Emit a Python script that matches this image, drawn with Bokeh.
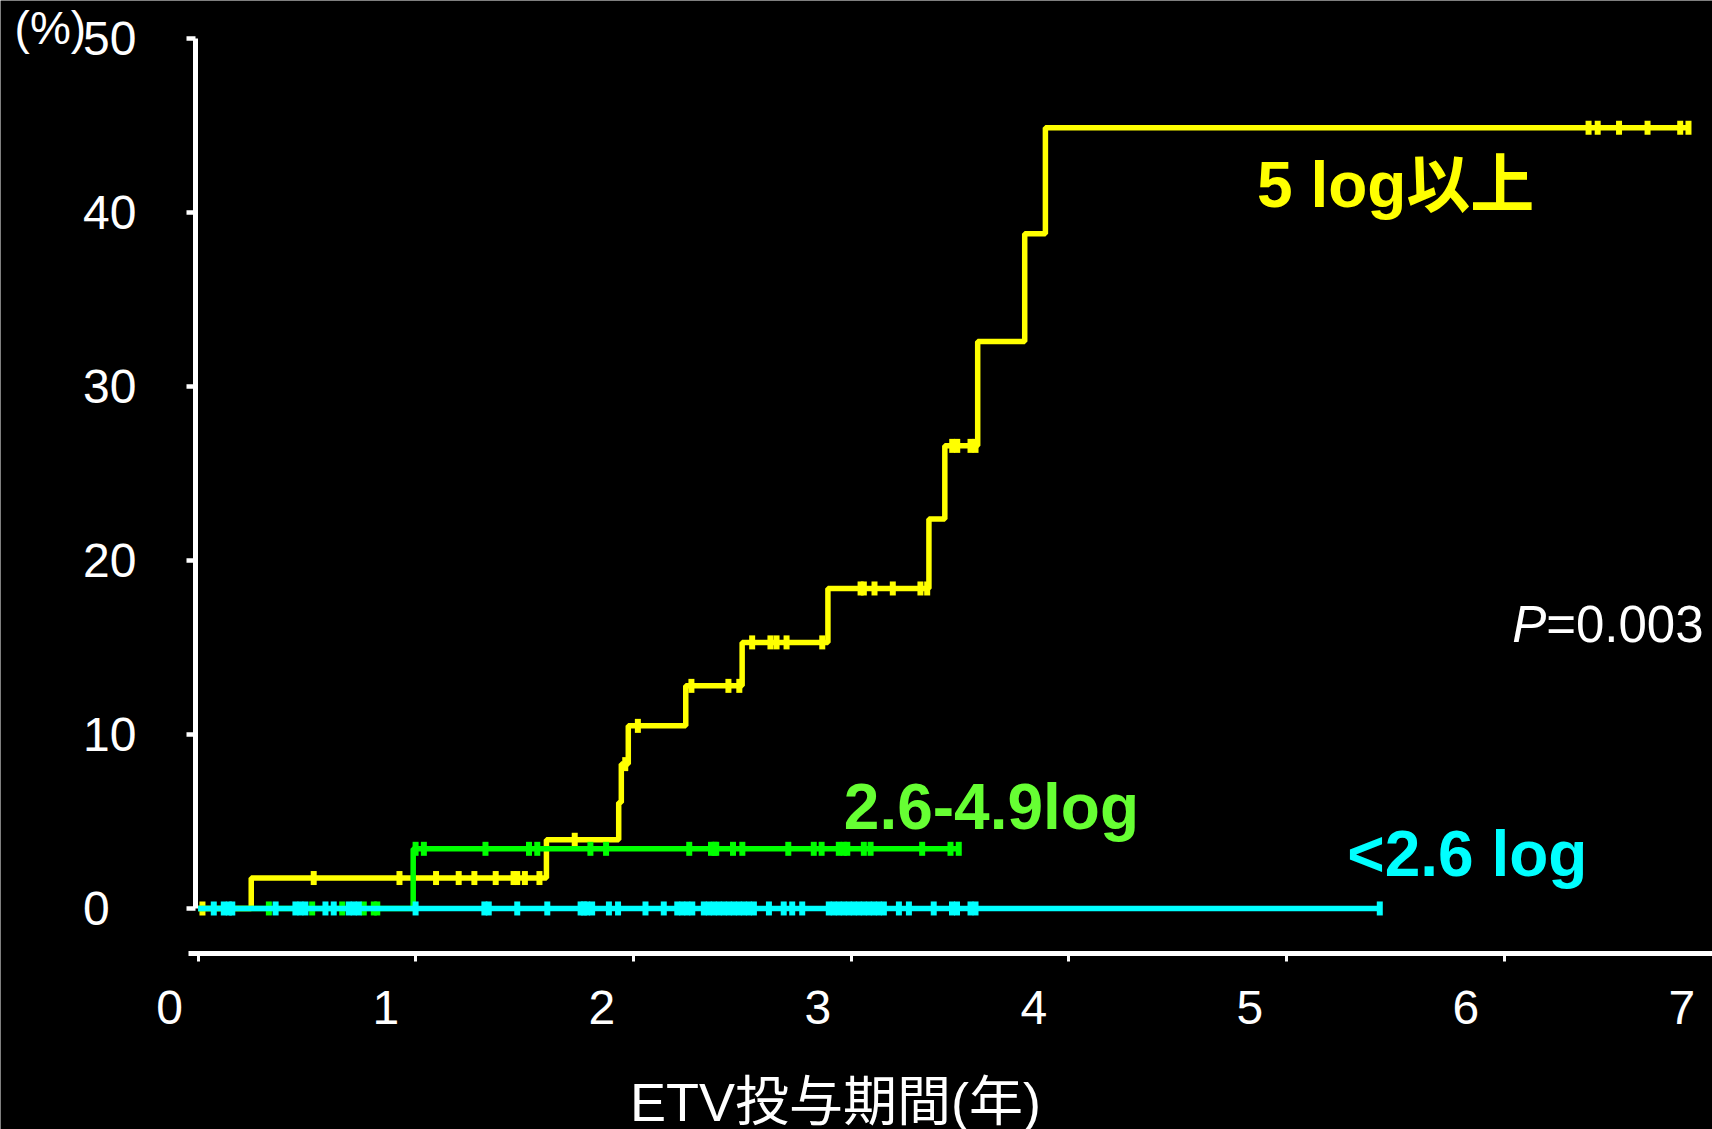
import numpy as np
from bokeh.plotting import figure
from bokeh.models import Range1d, LinearAxis, FixedTicker
from bokeh.core.properties import value
from bokeh.embed import file_html
from bokeh.resources import INLINE

# ---- data: cumulative incidence (%) by ETV treatment period (years) ----
# step curves: event times and level after each step
high_t = [0, 0.244, 1.600, 1.932, 1.944, 1.976, 2.240, 2.499, 2.893, 3.357, 3.430, 3.581, 3.797, 3.892, 6.846]
high_pct = [0, 1.75, 3.95, 6.1, 8.3, 10.5, 12.8, 15.3, 18.4, 22.4, 26.6, 32.6, 38.8, 44.9, 44.9]
high_censor = [0.02, 0.531, 0.925, 1.093, 1.197, 1.269, 1.367, 1.449, 1.466, 1.501, 1.568, 1.73,
               1.962, 2.02, 2.266, 2.436, 2.486, 2.545, 2.629, 2.657, 2.703, 2.867, 3.043, 3.058,
               3.107, 3.191, 3.318, 3.349, 3.464, 3.487, 3.548, 3.571, 6.387, 6.429, 6.527, 6.658,
               6.808, 6.846]

mid_t = [0, 0.988, 3.494]
mid_pct = [0, 3.43, 3.43]
mid_censor = [0.325, 0.524, 0.662, 0.761, 0.807, 0.823, 0.999, 1.037, 1.320, 1.520, 1.558, 1.802,
              1.874, 2.256, 2.356, 2.372, 2.380, 2.457, 2.500, 2.711, 2.828, 2.864, 2.943, 2.966,
              2.982, 3.058, 3.089, 3.326, 3.456, 3.494]

low_t = [0, 5.428]
low_pct = [0, 0]
low_censor = [0.072, 0.118, 0.141, 0.157, 0.356, 0.447, 0.470, 0.493, 0.585, 0.623, 0.692, 0.715,
              0.738, 0.999, 1.315, 1.335, 1.466, 1.604, 1.757, 1.772, 1.787, 1.810, 1.887, 1.929,
              2.055, 2.139, 2.201, 2.224, 2.247, 2.270, 2.323, 2.346, 2.369, 2.392, 2.415, 2.438,
              2.461, 2.484, 2.507, 2.530, 2.553, 2.622, 2.690, 2.729, 2.775, 2.897, 2.920, 2.943,
              2.966, 2.989, 3.012, 3.035, 3.058, 3.081, 3.104, 3.127, 3.150, 3.219, 3.265, 3.379,
              3.463, 3.486, 3.548, 3.571, 5.428]

group_names = ["5 log以上", "2.6-4.9log", "<2.6 log"]
p_label = ("P", "=0.003")
year_ticks = [0, 1, 2, 3, 4, 5, 6, 7]
pct_ticks = [0, 10, 20, 30, 40, 50]
x_title = "ETV投与期間(年)"
y_title = "(%)"

# ---- styling ----
YELLOW = "#ffff00"
GREEN = "#00ff00"
GREEN_TXT = "#66ff33"
CYAN = "#00ffff"
WHITE = "#ffffff"
FONT = "Liberation Sans, Noto Sans CJK JP"


def level_at(times, levels, pts):
    idx = np.searchsorted(np.asarray(times), np.asarray(pts), side="right") - 1
    return list(np.asarray(levels)[idx])


p = figure(width=1712, height=1129,
           x_range=Range1d(-0.9077, 6.9563), y_range=Range1d(-12.71, 52.21),
           x_axis_location=None, y_axis_location=None,
           output_backend="svg", toolbar_location=None, min_border=0)
p.background_fill_color = "black"
p.border_fill_color = "black"
p.outline_line_color = None
p.grid.visible = False
# a second horizontal scale that positions the year labels
p.extra_x_ranges = {"lab": Range1d(-0.7832, 7.1416)}

# curves with censoring ticks
for t, pct, cens, col in [(high_t, high_pct, high_censor, YELLOW),
                          (mid_t, mid_pct, mid_censor, GREEN),
                          (low_t, low_pct, low_censor, CYAN)]:
    p.step(t, pct, mode="after", line_color=col, line_width=5.5)
    p.scatter(cens, level_at(t, pct, cens), marker="dash", angle=np.pi / 2,
              size=14, line_color=col, line_width=6)

# y axis
yax = LinearAxis(fixed_location=-0.012, bounds=(0, 50), ticker=FixedTicker(ticks=pct_ticks))
yax.axis_line_color = WHITE
yax.axis_line_width = 5
yax.major_tick_line_color = WHITE
yax.major_tick_line_width = 4.5
yax.major_tick_out = 9
yax.major_tick_in = 0
yax.minor_tick_line_color = None
yax.major_label_standoff = 50
yax.major_label_text_color = WHITE
yax.major_label_text_font = FONT
yax.major_label_text_font_size = "48px"
yax.major_label_overrides = {0: "0\u2007"}
p.add_layout(yax, "left")

# x axis: rule and ticks
xax = LinearAxis(fixed_location=-2.588, bounds=(-0.044, 7.5), ticker=FixedTicker(ticks=year_ticks))
xax.axis_line_color = WHITE
xax.axis_line_width = 5
xax.major_tick_line_color = WHITE
xax.major_tick_line_width = 3
xax.major_tick_out = 8
xax.major_tick_in = 0
xax.minor_tick_line_color = None
xax.major_label_text_color = None
p.add_layout(xax, "below")

# x axis: year labels
xlab = LinearAxis(x_range_name="lab", fixed_location=-2.588, ticker=FixedTicker(ticks=year_ticks))
xlab.axis_line_color = None
xlab.major_tick_line_color = None
xlab.minor_tick_line_color = None
xlab.major_tick_out = 0
xlab.major_tick_in = 0
xlab.minor_tick_out = 0
xlab.major_label_standoff = 38
xlab.major_label_text_color = WHITE
xlab.major_label_text_font = FONT
xlab.major_label_text_font_size = "48px"
p.add_layout(xlab, "below")

# axis titles
p.text(x=[2.928], y=[-11.15], text=[x_title], text_align="center", text_baseline="alphabetic",
       text_color=WHITE, text_font=value(FONT), text_font_size="54px")
p.text(x=[-0.843], y=[50.61], text=[y_title], text_align="left", text_baseline="alphabetic",
       text_color=WHITE, text_font=value(FONT), text_font_size="46px")

# group labels
p.text(x=[4.864, 2.966, 5.279], y=[41.61, 5.845, 3.125], text=group_names,
       text_color=[YELLOW, GREEN_TXT, CYAN], text_align="left", text_baseline="alphabetic",
       text_font=value(FONT), text_font_style="bold", text_font_size="64px")

# P value
p.text(x=[6.036], y=[16.31], text=[p_label[0]], text_align="left", text_baseline="alphabetic",
       text_color=WHITE, text_font=value(FONT), text_font_style="italic", text_font_size="51px")
p.text(x=[6.036], y=[16.31], text=[p_label[1]], x_offset=34, text_align="left",
       text_baseline="alphabetic", text_color=WHITE, text_font=value(FONT), text_font_size="51px")

open("out.html", "w").write(file_html(p, INLINE))
